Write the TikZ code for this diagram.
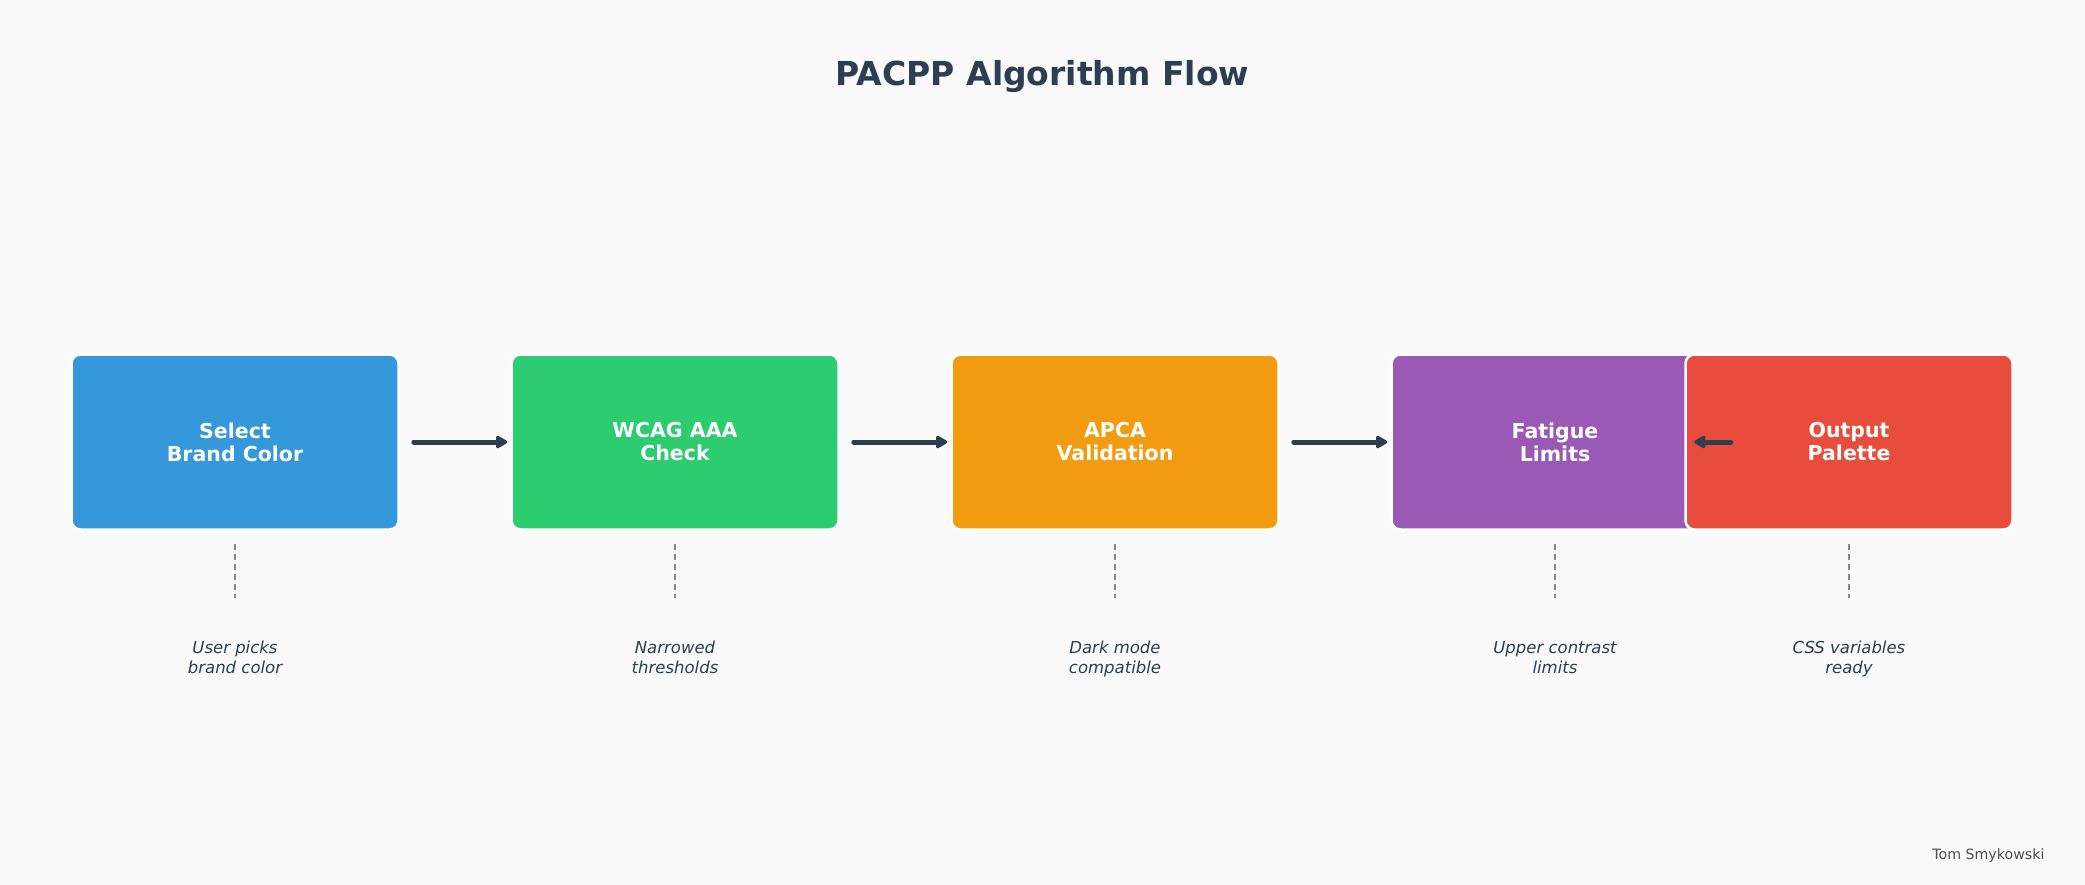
\documentclass[tikz,border=0pt]{standalone}
\usepackage{fontspec}
\setmainfont{DejaVu Sans}
\usetikzlibrary{arrows.meta}
\definecolor{bg}{HTML}{FAFAFA}
\definecolor{dark}{HTML}{2C3E50}
\definecolor{cblue}{HTML}{3498DB}
\definecolor{cgreen}{HTML}{2ECC71}
\definecolor{corange}{HTML}{F39C12}
\definecolor{cpurple}{HTML}{9B59B6}
\definecolor{cred}{HTML}{E74C3C}
\definecolor{dashgray}{HTML}{888888}
\definecolor{sig}{HTML}{4D4D4D}
\tikzset{
  stepbox/.style={rectangle, rounded corners=9pt, minimum width=327pt, minimum height=175pt,
    draw=white, line width=2.5pt, text=white, align=center,
    font=\bfseries\fontsize{20.5}{23}\selectfont},
  flow/.style={draw=dark, line width=5pt, line cap=round, -{Triangle[length=13pt,width=14pt,round]}},
  dashline/.style={draw=dashgray, line width=1.8pt, dash pattern=on 6.5pt off 3.5pt},
  note/.style={align=center, anchor=north, text=dark, font=\itshape\fontsize{16.5}{20}\selectfont},
}
\newcommand{\lineup}{\vphantom{bdlk}}
\begin{document}
\begin{tikzpicture}[x=1pt,y=-1pt]
\fill[bg] (0,0) rectangle (2085,885);
\useasboundingbox (0,0) rectangle (2085,885);

\node[text=dark, font=\bfseries\fontsize{33}{40}\selectfont] (title) at (1042.5,77) {PACPP Algorithm Flow};

\node[stepbox, fill=cblue] (b1) at (235,442) {Select\\Brand Color};
\node[stepbox, fill=cgreen] (b2) at (675,442) {WCAG AAA\\Check};
\node[stepbox, fill=corange] (b3) at (1115,442) {APCA\\Validation};
\node[stepbox, fill=cpurple] (b4) at (1555,442) {Fatigue\\Limits};
\node[stepbox, fill=cred] (b5) at (1849,442) {Output\\Palette};

\draw[flow] ([xshift=14pt]b1.east) -- ([xshift=-3pt]b2.west);
\draw[flow] ([xshift=14pt]b2.east) -- ([xshift=-3pt]b3.west);
\draw[flow] ([xshift=14pt]b3.east) -- ([xshift=-3pt]b4.west);
\draw[flow] ([xshift=11pt]b4.east) -- ([xshift=10pt]b5.west);

\foreach \i/\x in {1/235,2/675,3/1115,4/1555,5/1849}{
  \coordinate (e\i) at (\x,598);
}
\node[note] (l1) at (235,637) {\lineup User picks\\brand color};
\node[note] (l2) at (675,637) {\lineup Narrowed\\thresholds};
\node[note] (l3) at (1115,637) {\lineup Dark mode\\compatible};
\node[note] (l4) at (1555,637) {\lineup Upper contrast\\limits};
\node[note] (l5) at (1849,637) {\lineup CSS variables\\ready};

\foreach \i in {1,...,5}{
  \draw[dashline] ([yshift=-13pt]b\i.south) -- (e\i);
}

\node[anchor=east, text=sig, font=\fontsize{14.2}{17}\selectfont] (sig) at (2048,856) {Tom Smykowski};
\end{tikzpicture}
\end{document}
